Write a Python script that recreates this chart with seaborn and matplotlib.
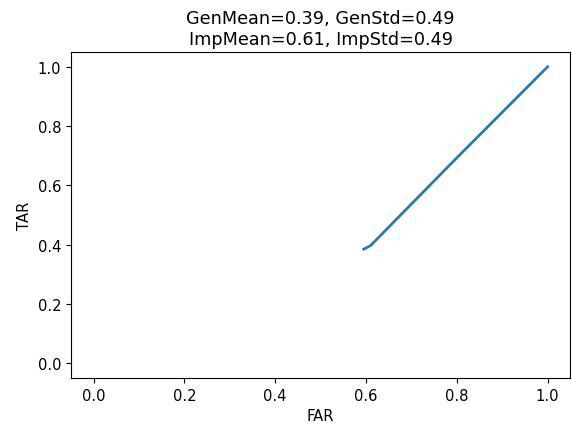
import matplotlib
matplotlib.use("Agg")
import matplotlib.pyplot as plt
import seaborn as sns
import numpy as np

# ROC-style curve values
far = [0.595, 0.610, 0.80, 1.0]
tar = [0.385, 0.397, 0.693, 1.0]

gen_mean, gen_std = 0.39, 0.49
imp_mean, imp_std = 0.61, 0.49

plt.rcParams['font.family'] = ['DejaVu Sans']
plt.rcParams['font.size'] = 10.6
fig, ax = plt.subplots(figsize=(5.72, 4.27), dpi=100)
sns.lineplot(x=far, y=tar, ax=ax, color='#2a7ab0', linewidth=2, sort=False)

ax.set_xlim(-0.05, 1.05)
ax.set_ylim(-0.05, 1.05)
ax.set_xticks(np.arange(0, 1.01, 0.2))
ax.set_yticks(np.arange(0, 1.01, 0.2))
ax.set_xlabel('FAR')
ax.set_ylabel('TAR')
ax.set_title(f'GenMean={gen_mean:.2f}, GenStd={gen_std:.2f}\nImpMean={imp_mean:.2f}, ImpStd={imp_std:.2f}')

plt.subplots_adjust(left=0.124, right=0.997, top=0.876, bottom=0.112)
fig.savefig('out.png', dpi=100)
